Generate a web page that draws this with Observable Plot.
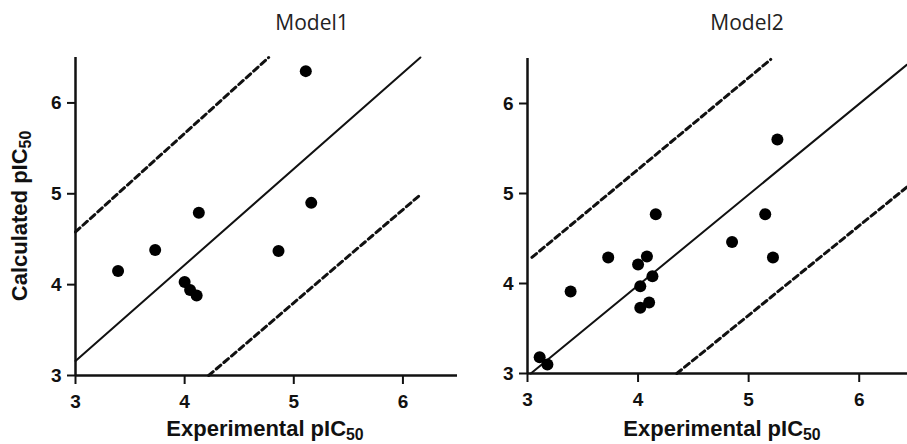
<!DOCTYPE html>
<html>
<head>
<meta charset="utf-8">
<script src="https://cdn.jsdelivr.net/npm/d3@7"></script>
<script src="https://cdn.jsdelivr.net/npm/@observablehq/plot@0.6"></script>
<style>
  html, body { margin: 0; padding: 0; background: #fff; overflow: hidden; }
  #wrap { position: relative; width: 907px; height: 444px; overflow: hidden; background: #fff; }
  .panel { position: absolute; top: 0; width: 460px; height: 444px; }
  .panel svg { max-width: none !important; width: 460px; height: 444px; }
  .title { position: absolute; font-family: "Open Sans", sans-serif; font-size: 21px; line-height: 21px; color: #222; transform: translateX(-50%); white-space: nowrap; }
  .alabel { position: absolute; font-family: "Liberation Sans", Arial, sans-serif; font-weight: bold; font-size: 22px; line-height: 22px; color: #111; white-space: nowrap; }
  .alabel sub { font-size: 0.72em; vertical-align: -0.28em; line-height: 0; }
</style>
</head>
<body>
<div id="wrap"></div>
<script>
// ---- data ----
const ticks = [3, 4, 5, 6];
const titles = ["Model1", "Model2"];

// Model 1: experimental vs calculated pIC50
const m1Exp  = [3.39, 3.73, 4.13, 4.00, 4.05, 4.11, 4.86, 5.11, 5.16];
const m1Calc = [4.15, 4.38, 4.79, 4.03, 3.94, 3.88, 4.37, 6.35, 4.90];

// Model 2
const m2Exp  = [3.11, 3.18, 3.39, 3.73, 4.00, 4.08, 4.02, 4.13, 4.02, 4.10, 4.16, 4.85, 5.15, 5.22, 5.26];
const m2Calc = [3.18, 3.10, 3.91, 4.29, 4.21, 4.30, 3.97, 4.08, 3.73, 3.79, 4.77, 4.46, 4.77, 4.29, 5.60];

// Fit line and prediction bounds (end points)
const m1FitX = [3.00, 6.16], m1FitY = [3.16, 6.50];
const m1UpX  = [3.00, 4.77], m1UpY  = [4.58, 6.50];
const m1LoX  = [4.22, 6.17], m1LoY  = [3.00, 5.00];

const m2FitX = [3.03, 6.43], m2FitY = [3.00, 6.43];
const m2UpX  = [3.04, 5.20], m2UpY  = [4.29, 6.49];
const m2LoX  = [4.35, 6.43], m2LoY  = [3.00, 5.07];

const toPts = (xs, ys) => xs.map((x, i) => ({x, y: ys[i]}));

function panel(cfg) {
  const font = {fontSize: 19, fontWeight: "bold", fontFamily: "Liberation Sans, Arial, sans-serif"};
  const svg = Plot.plot({
    width: 460,
    height: 444,
    marginLeft: cfg.ml,
    marginRight: cfg.mr,
    marginTop: cfg.mt,
    marginBottom: cfg.mb,
    x: {domain: [3, 6.5]},
    y: {domain: [3, 6.5]},
    style: {background: "white", color: "#111"},
    marks: [
      Plot.axisX({ticks, tickFormat: d3.format("d"), tickSize: 9, tickPadding: 10, label: null, strokeWidth: 2, ...font}),
      Plot.axisY({ticks, tickFormat: d3.format("d"), tickSize: 8, tickPadding: 6, label: null, strokeWidth: 2, ...font}),
      Plot.ruleY([3], {stroke: "#111", strokeWidth: 2.5}),
      Plot.ruleX([3], {stroke: "#111", strokeWidth: 2.5}),
      Plot.line(toPts(cfg.upX, cfg.upY), {x: "x", y: "y", stroke: "#111", strokeWidth: 3, strokeDasharray: "6,4"}),
      Plot.line(toPts(cfg.loX, cfg.loY), {x: "x", y: "y", stroke: "#111", strokeWidth: 3, strokeDasharray: "6,4"}),
      Plot.line(toPts(cfg.fitX, cfg.fitY), {x: "x", y: "y", stroke: "#111", strokeWidth: 2}),
      Plot.dot(toPts(cfg.ex, cfg.calc), {x: "x", y: "y", r: 6, fill: "#000", stroke: "none"})
    ]
  });
  return svg;
}

const wrap = document.getElementById("wrap");

const p1 = panel({ml: 75, mr: 3, mt: 57, mb: 69,
  ex: m1Exp, calc: m1Calc, fitX: m1FitX, fitY: m1FitY, upX: m1UpX, upY: m1UpY, loX: m1LoX, loY: m1LoY});
const d1 = document.createElement("div");
d1.className = "panel"; d1.style.left = "0px"; d1.appendChild(p1); wrap.appendChild(d1);

const p2 = panel({ml: 67, mr: 6, mt: 58, mb: 71,
  ex: m2Exp, calc: m2Calc, fitX: m2FitX, fitY: m2FitY, upX: m2UpX, upY: m2UpY, loX: m2LoX, loY: m2LoY});
const d2 = document.createElement("div");
d2.className = "panel"; d2.style.left = "460px"; d2.appendChild(p2); wrap.appendChild(d2);

// titles
[[titles[0], 312], [titles[1], 747]].forEach(([t, x]) => {
  const el = document.createElement("div");
  el.className = "title"; el.textContent = t;
  el.style.left = x + "px"; el.style.top = "12px";
  wrap.appendChild(el);
});

// x axis labels
[265, 722].forEach(x => {
  const el = document.createElement("div");
  el.className = "alabel";
  el.innerHTML = "Experimental pIC<sub>50</sub>";
  el.style.left = x + "px"; el.style.top = "418px";
  el.style.transform = "translateX(-50%)";
  wrap.appendChild(el);
});

// y axis label
const yl = document.createElement("div");
yl.className = "alabel";
yl.innerHTML = "Calculated pIC<sub>50</sub>";
yl.style.left = "20px"; yl.style.top = "216px";
yl.style.transform = "translate(-50%,-50%) rotate(-90deg)";
wrap.appendChild(yl);
</script>
</body>
</html>
